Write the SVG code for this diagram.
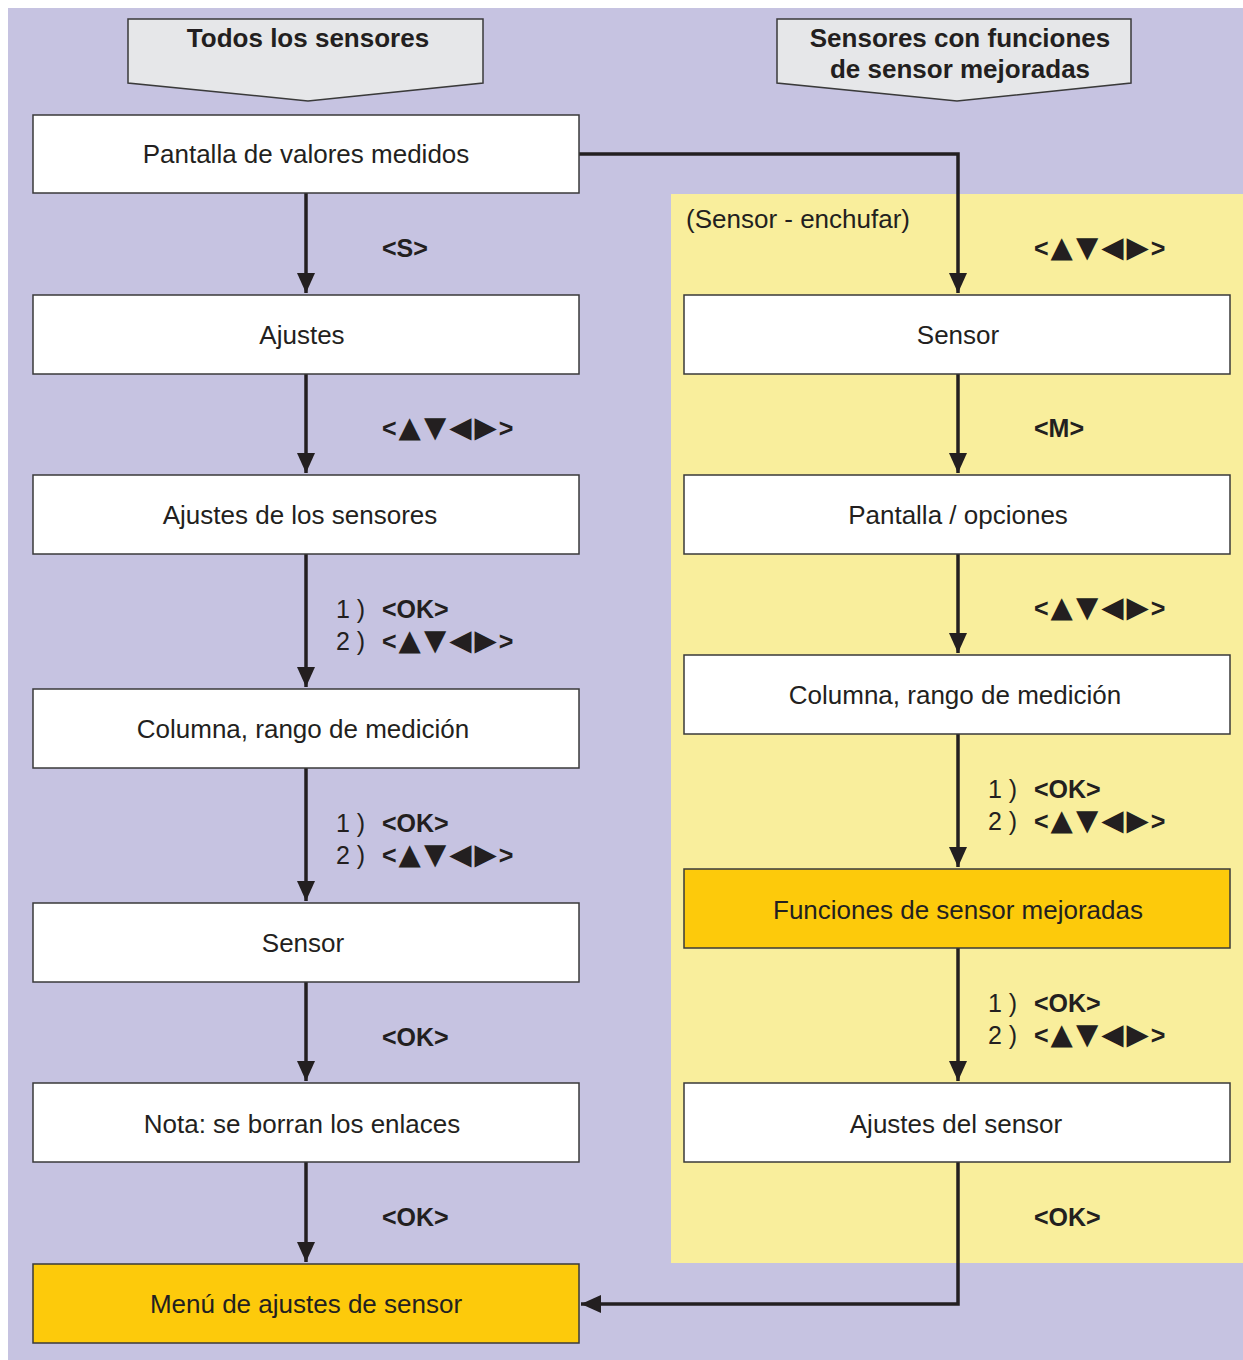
<svg xmlns="http://www.w3.org/2000/svg" width="1243" height="1360" viewBox="0 0 1243 1360">
<defs>
<style>
.box{fill:#fff;stroke:#3a3a3a;stroke-width:1.5}
.hl{fill:#fdca0b;stroke:#3a3a3a;stroke-width:1.5}
.hdr{fill:#e6e7e9;stroke:#3a3a3a;stroke-width:1.5}
.t{font-family:"Liberation Sans",Arial,sans-serif;font-size:26px;fill:#231f20;text-anchor:middle}
.h{font-family:"Liberation Sans",Arial,sans-serif;font-size:26px;font-weight:bold;fill:#231f20;text-anchor:middle}
.k{font-family:"Liberation Sans",Arial,sans-serif;font-size:25px;font-weight:bold;fill:#231f20}
.tri{font-family:"DejaVu Sans",sans-serif;font-size:29px;font-weight:normal;letter-spacing:3px}
.n{font-family:"Liberation Sans",Arial,sans-serif;font-size:25px;fill:#231f20}
.c{fill:none;stroke:#231f20;stroke-width:3.5}
</style>
<marker id="a" viewBox="0 0 20 20" refX="20" refY="10" markerWidth="20" markerHeight="20" orient="auto" markerUnits="userSpaceOnUse">
<path d="M0,1 L20,10 L0,19 Z" fill="#231f20"/>
</marker>
</defs>
<rect x="0" y="0" width="1243" height="1360" fill="#ffffff"/>
<rect x="8" y="8" width="1235" height="1352" fill="#c6c3e1"/>
<rect x="671" y="194" width="572" height="1069" fill="#f9ee9c"/>

<g id="hdr-left">
<polygon class="hdr" points="128,19 483,19 483,83 308,101 128,83"/>
<text class="h" x="308" y="47">Todos los sensores</text>
</g>
<g id="hdr-right">
<polygon class="hdr" points="777,19 1131,19 1131,83 957,101 777,83"/>
<text class="h" x="960" y="47">Sensores con funciones</text>
<text class="h" x="960" y="78">de sensor mejoradas</text>
</g>

<text class="n" x="686" y="228" style="font-size:26px">(Sensor - enchufar)</text>

<g id="connectors">
<path class="c" d="M306,193 V293" marker-end="url(#a)"/>
<path class="c" d="M306,374 V473" marker-end="url(#a)"/>
<path class="c" d="M306,554 V687" marker-end="url(#a)"/>
<path class="c" d="M306,768 V901" marker-end="url(#a)"/>
<path class="c" d="M306,982 V1081" marker-end="url(#a)"/>
<path class="c" d="M306,1162 V1262" marker-end="url(#a)"/>
<path class="c" d="M579,154 H958 V293" marker-end="url(#a)"/>
<path class="c" d="M958,374 V473" marker-end="url(#a)"/>
<path class="c" d="M958,554 V653" marker-end="url(#a)"/>
<path class="c" d="M958,734 V867" marker-end="url(#a)"/>
<path class="c" d="M958,948 V1081" marker-end="url(#a)"/>
<path class="c" d="M958,1162 V1304 H581" marker-end="url(#a)"/>
</g>

<g id="labels">
<text class="k" x="382" y="257">&lt;S&gt;</text>
<text class="k" x="382" y="437">&lt;<tspan class="tri" dx="2">▲▼◀▶</tspan><tspan dx="-1">&gt;</tspan></text>
<text class="n" x="336" y="618">1 )</text><text class="k" x="382" y="618">&lt;OK&gt;</text>
<text class="n" x="336" y="650">2 )</text><text class="k" x="382" y="650">&lt;<tspan class="tri" dx="2">▲▼◀▶</tspan><tspan dx="-1">&gt;</tspan></text>
<text class="n" x="336" y="832">1 )</text><text class="k" x="382" y="832">&lt;OK&gt;</text>
<text class="n" x="336" y="864">2 )</text><text class="k" x="382" y="864">&lt;<tspan class="tri" dx="2">▲▼◀▶</tspan><tspan dx="-1">&gt;</tspan></text>
<text class="k" x="382" y="1046">&lt;OK&gt;</text>
<text class="k" x="382" y="1226">&lt;OK&gt;</text>
<text class="k" x="1034" y="257">&lt;<tspan class="tri" dx="2">▲▼◀▶</tspan><tspan dx="-1">&gt;</tspan></text>
<text class="k" x="1034" y="437">&lt;M&gt;</text>
<text class="k" x="1034" y="617">&lt;<tspan class="tri" dx="2">▲▼◀▶</tspan><tspan dx="-1">&gt;</tspan></text>
<text class="n" x="988" y="798">1 )</text><text class="k" x="1034" y="798">&lt;OK&gt;</text>
<text class="n" x="988" y="830">2 )</text><text class="k" x="1034" y="830">&lt;<tspan class="tri" dx="2">▲▼◀▶</tspan><tspan dx="-1">&gt;</tspan></text>
<text class="n" x="988" y="1012">1 )</text><text class="k" x="1034" y="1012">&lt;OK&gt;</text>
<text class="n" x="988" y="1044">2 )</text><text class="k" x="1034" y="1044">&lt;<tspan class="tri" dx="2">▲▼◀▶</tspan><tspan dx="-1">&gt;</tspan></text>
<text class="k" x="1034" y="1226">&lt;OK&gt;</text>
</g>

<g id="n-pantalla"><rect class="box" x="33" y="115" width="546" height="78"/><text class="t" x="306" y="163">Pantalla de valores medidos</text></g>
<g id="n-ajustes"><rect class="box" x="33" y="295" width="546" height="79"/><text class="t" x="302" y="344">Ajustes</text></g>
<g id="n-ajustes-sensores"><rect class="box" x="33" y="475" width="546" height="79"/><text class="t" x="300" y="524">Ajustes de los sensores</text></g>
<g id="n-columna-l"><rect class="box" x="33" y="689" width="546" height="79"/><text class="t" x="303" y="738">Columna, rango de medición</text></g>
<g id="n-sensor-l"><rect class="box" x="33" y="903" width="546" height="79"/><text class="t" x="303" y="952">Sensor</text></g>
<g id="n-nota"><rect class="box" x="33" y="1083" width="546" height="79"/><text class="t" x="302" y="1133">Nota: se borran los enlaces</text></g>
<g id="n-menu"><rect class="hl" x="33" y="1264" width="546" height="79"/><text class="t" x="306" y="1313">Menú de ajustes de sensor</text></g>

<g id="n-sensor-r"><rect class="box" x="684" y="295" width="546" height="79"/><text class="t" x="958" y="344">Sensor</text></g>
<g id="n-pantalla-op"><rect class="box" x="684" y="475" width="546" height="79"/><text class="t" x="958" y="524">Pantalla / opciones</text></g>
<g id="n-columna-r"><rect class="box" x="684" y="655" width="546" height="79"/><text class="t" x="955" y="704">Columna, rango de medición</text></g>
<g id="n-funciones"><rect class="hl" x="684" y="869" width="546" height="79"/><text class="t" x="958" y="919">Funciones de sensor mejoradas</text></g>
<g id="n-ajustes-sensor"><rect class="box" x="684" y="1083" width="546" height="79"/><text class="t" x="956" y="1133">Ajustes del sensor</text></g>
</svg>
